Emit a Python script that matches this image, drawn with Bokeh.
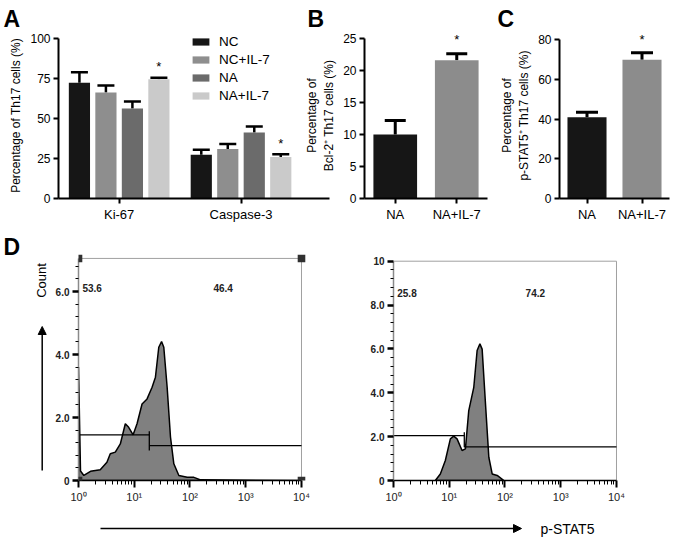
import math
from bokeh.plotting import figure
from bokeh.layouts import row, column
from bokeh.models import (Range1d, FixedTicker, Legend, LegendItem, Whisker, TeeHead,
                          ColumnDataSource, Label, Arrow, NormalHead, BoxAnnotation)
from bokeh.core.properties import value
from bokeh.embed import file_html
from bokeh.resources import INLINE

FONT = "Liberation Sans"

# ---------------- data ----------------
# Panel A
a_groups = ["Ki-67", "Caspase-3"]
a_series = ["NC", "NC+IL-7", "NA", "NA+IL-7"]
a_nc = [72.3, 27.4]
a_nc_il7 = [66.2, 30.9]
a_na = [56.2, 41.2]
a_na_il7 = [74.5, 26.0]
a_nc_sem = [6.6, 3.1]
a_nc_il7_sem = [4.4, 3.2]
a_na_sem = [4.4, 3.8]
a_na_il7_sem = [0.9, 1.6]
a_star_y = [82.5, 34.4]          # '*' over NA+IL-7 in each group
a_colors = ["#161616", "#8e8e8e", "#6b6b6b", "#cacaca"]

# Panel B
b_groups = ["NA", "NA+IL-7"]
b_vals = [10.0, 21.6]
b_sem = [2.2, 1.0]
b_star_y = 24.9

# Panel C
c_groups = ["NA", "NA+IL-7"]
c_vals = [40.9, 69.8]
c_sem = [2.5, 3.5]
c_star_y = 80.0
bc_colors = ["#161616", "#8c8c8c"]

# Panel D (histograms, x in log10 units of p-STAT5 intensity)
dl_log = [0.0, 0.0, 0.036, 0.096, 0.215, 0.39, 0.51, 0.57, 0.66, 0.75, 0.84, 0.9, 0.98,
          1.05, 1.14, 1.23, 1.32, 1.38, 1.44, 1.49, 1.53, 1.59, 1.65, 1.71, 1.8, 1.95,
          2.07, 2.19, 4.0]
dl_count = [0.0, 3.6, 0.3, 0.16, 0.29, 0.34, 0.58, 0.85, 0.9, 1.16, 1.8, 1.69, 1.45,
            1.8, 2.43, 2.59, 2.96, 3.28, 4.23, 4.41, 4.23, 2.96, 1.38, 0.53, 0.16, 0.1,
            0.1, 0.02, 0.0]
dl_pcts = ["53.6", "46.4"]
dl_pct_log = [0.07, 2.42]
dl_pct_y = 6.1
dl_gate_log = 1.27
dl_gate_left_y = 1.45
dl_gate_right_y = 1.11
dl_gate_bracket = [0.95, 1.56]

dr_log = [0.75, 0.84, 0.93, 1.02, 1.08, 1.14, 1.23, 1.29, 1.35, 1.44, 1.50, 1.55, 1.59,
          1.65, 1.71, 1.77, 1.86, 1.98]
dr_count = [0.0, 0.30, 0.91, 1.9, 2.02, 1.9, 1.37, 1.44, 3.19, 4.25, 5.93, 6.23, 5.99,
            3.5, 1.06, 0.30, 0.23, 0.0]
dr_pcts = ["25.8", "74.2"]
dr_pct_log = [0.067, 2.37]
dr_pct_y = 8.56
dr_gate_log = 1.27
dr_gate_left_y = 2.05
dr_gate_right_y = 1.53
dr_gate_bracket = [1.52, 2.2]


# ---------------- helpers ----------------
def style_prism(p):
    p.grid.visible = False
    p.outline_line_color = None
    for ax in (p.xaxis[0], p.yaxis[0]):
        ax.axis_line_width = 2
        ax.axis_line_color = "black"
        ax.major_tick_line_width = 2
        ax.major_tick_line_color = "black"
        ax.major_tick_out = 5
        ax.major_tick_in = 0
        ax.minor_tick_line_color = None
        ax.major_label_text_font = FONT
        ax.major_label_text_color = "black"
        ax.major_label_standoff = 3
        ax.axis_label_text_font = FONT
        ax.axis_label_text_font_style = "normal"
        ax.axis_label_text_font_size = "12px"
        ax.axis_label_text_color = "black"
        ax.axis_label_standoff = 4
    p.yaxis.major_label_text_font_size = "12px"
    p.xaxis.major_label_text_font_size = "13px"


def star(p, x, y):
    p.add_layout(Label(x=x, y=y, text="*", text_font=FONT, text_font_size="13px",
                       text_color="black", text_align="center", text_baseline="middle"))


def strip(width, height, ytop, mbb=0):
    p = figure(width=width, height=height, x_range=Range1d(0, width), y_range=Range1d(0, ytop),
               output_backend="svg", toolbar_location=None, min_border=0, min_border_bottom=mbb,
               x_axis_location=None, y_axis_location=None)
    p.title.visible = False
    p.grid.visible = False
    p.outline_line_color = None
    p.border_fill_color = None
    p.background_fill_color = None
    return p


TOP = 32  # height of the letter strip above panels A-C
ROW1_BOTTOM = 32

# ---------------- top strip: panel letters ----------------
pT = strip(677, TOP, TOP)
pT.text(x=[3, 307, 497], y=[TOP - 18.5] * 3, text=["A", "B", "C"], text_font=value(FONT),
        text_font_size="23px", text_font_style="bold", text_color="black",
        text_baseline="middle")

# ---------------- Panel A ----------------
FRAME1_H = 230 - TOP - ROW1_BOTTOM
GROUP_STEP = 4.6
pA = figure(width=330, height=230 - TOP, x_range=Range1d(-0.79, 9.44),
            y_range=Range1d(0, FRAME1_H / 1.6),
            output_backend="svg", toolbar_location=None,
            min_border_left=58, min_border_right=1, min_border_top=0,
            min_border_bottom=ROW1_BOTTOM)
style_prism(pA)
a_means = [a_nc, a_nc_il7, a_na, a_na_il7]
a_sems = [a_nc_sem, a_nc_il7_sem, a_na_sem, a_na_il7_sem]
items = []
for si, (name, means, sems, col) in enumerate(zip(a_series, a_means, a_sems, a_colors)):
    xs = [gi * GROUP_STEP + si for gi in range(len(a_groups))]
    src = ColumnDataSource(dict(x=xs, top=means, upper=[m + s for m, s in zip(means, sems)]))
    r = pA.vbar(x="x", top="top", bottom=0, width=0.8, source=src,
                fill_color=col, line_color=None)
    pA.add_layout(Whisker(source=src, base="x", lower="top", upper="upper", dimension="height",
                          line_width=2.5, line_color="black",
                          upper_head=TeeHead(size=17, line_width=2.5, line_color="black"),
                          lower_head=None))
    items.append(LegendItem(label=name, renderers=[r]))
    if name == "NA+IL-7":
        for x, sy in zip(xs, a_star_y):
            star(pA, x, sy)
centers = [gi * GROUP_STEP + (len(a_series) - 1) / 2 for gi in range(len(a_groups))]
pA.xaxis.ticker = FixedTicker(ticks=centers)
pA.xaxis.major_label_overrides = {c: g for c, g in zip(centers, a_groups)}
pA.yaxis.ticker = FixedTicker(ticks=[0, 25, 50, 75, 100])
pA.yaxis.bounds = (0, 100)
pA.yaxis.axis_label = "Percentage of Th17 cells (%)"
legend = Legend(items=items, location=(132, 95), glyph_width=21, glyph_height=9,
                label_standoff=8, spacing=3, padding=0, margin=0, border_line_color=None,
                background_fill_alpha=0, label_text_font=FONT, label_text_font_size="13.5px",
                label_height=15, label_text_color="black")
pA.add_layout(legend)


# ---------------- Panel B / C ----------------
def two_bar(width, ymax, ytop, yticks, vals, sems, groups, ylabel, mbl, mbr, cap, star_y):
    p = figure(width=width, height=230 - TOP, x_range=Range1d(-0.5, 1.5), y_range=Range1d(0, ymax),
               output_backend="svg", toolbar_location=None,
               min_border_left=mbl, min_border_right=mbr, min_border_top=0,
               min_border_bottom=ROW1_BOTTOM)
    style_prism(p)
    p.border_fill_color = None
    p.background_fill_color = None
    xs = list(range(len(groups)))
    src = ColumnDataSource(dict(x=xs, top=vals, color=bc_colors,
                                upper=[v + s for v, s in zip(vals, sems)]))
    p.vbar(x="x", top="top", bottom=0, width=0.71, source=src, fill_color="color", line_color=None)
    p.add_layout(Whisker(source=src, base="x", lower="top", upper="upper", dimension="height",
                         line_width=3, line_color="black",
                         upper_head=TeeHead(size=cap, line_width=3, line_color="black"),
                         lower_head=None))
    p.xaxis.ticker = FixedTicker(ticks=xs)
    p.xaxis.major_label_overrides = {x: g for x, g in zip(xs, groups)}
    p.yaxis.ticker = FixedTicker(ticks=yticks)
    p.yaxis.bounds = (0, ytop)
    p.yaxis.axis_label = ylabel
    star(p, 1, star_y)
    return p


pB = two_bar(195, FRAME1_H / 6.4, 25, [0, 5, 10, 15, 20, 25], b_vals, b_sem, b_groups,
             "Percentage of\nBcl-2\u207a Th17 cells (%)", 58, 10, 21, b_star_y)
pB.margin = (0, 0, 0, -28)
pC = two_bar(180, FRAME1_H / 1.9875, 80, [0, 20, 40, 60, 80], c_vals, c_sem, c_groups,
             "Percentage of\np-STAT5\u207a Th17 cells (%)", 52, 8, 22, c_star_y)


# ---------------- Panel D ----------------
SUP = {1: "10\u2070", 10: "10\u00b9", 100: "10\u00b2", 1000: "10\u00b3", 10000: "10\u2074"}
x_minor = [k * 10 ** d for d in range(4) for k in range(2, 10)]
ROW2_H = 275
ROW2_BOTTOM = 25
FRAME2_H = ROW2_H - ROW2_BOTTOM       # frames start at the top of row 2 (page y 230)
DEC_PX = 55.7                         # pixels per decade on the x axis
EXTRA_PX = 5                          # room right of 10^4 for the box edge and corner mark


def flow_fig(width, box_top, px_per_unit, mbl, yticks, ylabels, logs, counts, gate_log,
             gl_y, gr_y, bracket, pcts, pct_log, pct_y, corners):
    mbr = width - mbl - int(round(4 * DEC_PX)) - EXTRA_PX
    p = figure(width=width, height=ROW2_H, x_axis_type="log",
               x_range=Range1d(1, 10 ** (4 + EXTRA_PX / DEC_PX)),
               y_range=Range1d(0, FRAME2_H / px_per_unit), output_backend="svg",
               toolbar_location=None, min_border_left=mbl, min_border_right=mbr,
               min_border_top=0, min_border_bottom=ROW2_BOTTOM)
    p.grid.visible = False
    p.outline_line_color = None
    p.border_fill_color = None
    p.background_fill_color = None
    # gate box (top and right edges)
    p.segment(x0=[1, 1e4], y0=[box_top, 0], x1=[1e4, 1e4], y1=[box_top, box_top],
              line_color="#a0a0a0", line_width=1)
    xs = [10 ** v for v in logs]
    p.patch(xs, counts, fill_color="#808080", line_color="black", line_width=1.5)
    g = 10 ** gate_log
    p.segment(x0=[1, g, g], y0=[gl_y, bracket[0], gr_y], x1=[g, g, 1e4], y1=[gl_y, bracket[1], gr_y],
              line_color="black", line_width=1.3)
    p.text(x=[10 ** pct_log[0], 10 ** pct_log[1]], y=[pct_y, pct_y], text=pcts,
           text_font=value(FONT), text_font_size="10px", text_font_style="bold",
           text_color="#222222", text_align="left", text_baseline="middle")
    xa = p.xaxis[0]
    xa.ticker = FixedTicker(ticks=list(SUP.keys()), minor_ticks=x_minor)
    xa.major_label_overrides = SUP
    xa.bounds = (1, 1e4)
    xa.axis_line_width = 1.5
    xa.axis_line_color = "black"
    xa.major_tick_out = 7
    xa.major_tick_in = 0
    xa.major_tick_line_width = 2
    xa.minor_tick_out = 4
    xa.minor_tick_in = 0
    xa.minor_tick_line_width = 1
    xa.major_label_text_font = FONT
    xa.major_label_text_font_size = "11px"
    xa.major_label_text_color = "#222222"
    xa.major_label_standoff = 3
    ya = p.yaxis[0]
    yminor = [round(i * 0.4, 1) for i in range(1, int(box_top / 0.4) + 1) if i % 5 != 0]
    ya.ticker = FixedTicker(ticks=yticks, minor_ticks=yminor)
    ya.major_label_overrides = {t: l for t, l in zip(yticks, ylabels)}
    ya.bounds = (0, box_top)
    ya.axis_line_width = 1.5
    ya.axis_line_color = "#8a8a8a"
    ya.major_tick_out = 6
    ya.major_tick_in = 0
    ya.major_tick_line_width = 2.5
    ya.minor_tick_out = 3
    ya.minor_tick_in = 0
    ya.minor_tick_line_width = 1.2
    ya.major_label_text_font = FONT
    ya.major_label_text_font_size = "10px"
    ya.major_label_text_font_style = "bold"
    ya.major_label_text_color = "#222222"
    ya.major_label_standoff = 3
    if corners:
        half = 3.8
        fx = 10 ** (half / DEC_PX)
        dy = half / px_per_unit
        for cx in (1, 1e4):
            for cy in (0, box_top):
                p.add_layout(BoxAnnotation(left=cx / fx, right=cx * fx, bottom=cy - dy, top=cy + dy,
                                           fill_color="#303030", fill_alpha=1, line_color=None,
                                           level="overlay"))
    return p


pDL = flow_fig(292, 7.05, 31.5, 30, [0, 2, 4, 6], ["0", "2.0", "4.0", "6.0"],
               dl_log, dl_count, dl_gate_log, dl_gate_left_y, dl_gate_right_y, dl_gate_bracket,
               dl_pcts, dl_pct_log, dl_pct_y, True)
pDR = flow_fig(337, 10, 21.93, 53, [0, 2, 4, 6, 8, 10], ["0", "2.0", "4.0", "6.0", "8.0", "10"],
               dr_log, dr_count, dr_gate_log, dr_gate_left_y, dr_gate_right_y, dr_gate_bracket,
               dr_pcts, dr_pct_log, dr_pct_y, False)

# left strip: panel letter, Count axis arrow; frame spans page y 230..480 (y = 480 - page y)
pS = strip(48, ROW2_H, FRAME2_H, ROW2_BOTTOM)
pS.text(x=[3], y=[480 - 246.5], text=["D"], text_font=value(FONT), text_font_size="23px",
        text_font_style="bold", text_color="black", text_baseline="middle")
pS.text(x=[41], y=[480 - 280], text=["Count"], angle=math.pi / 2, text_font=value(FONT),
        text_font_size="13px", text_color="black", text_align="center", text_baseline="middle")
pS.add_layout(Arrow(x_start=41.7, y_start=480 - 470, x_end=41.7, y_end=480 - 326, line_width=1.5,
                    end=NormalHead(size=8, fill_color="black", line_color="black")))

# bottom strip: p-STAT5 axis arrow (page y 505..539)
pX = strip(677, 34, 34)
pX.add_layout(Arrow(x_start=100, y_start=11, x_end=521, y_end=11, line_width=1.5,
                    end=NormalHead(size=8, fill_color="black", line_color="black")))
pX.text(x=[540], y=[11], text=["p-STAT5"], text_font=value(FONT), text_font_size="14px",
        text_color="black", text_align="left", text_baseline="middle")

layout = column(pT, row(pA, pB, pC), row(pS, pDL, pDR), pX)
open("out.html", "w").write(file_html(layout, INLINE))
